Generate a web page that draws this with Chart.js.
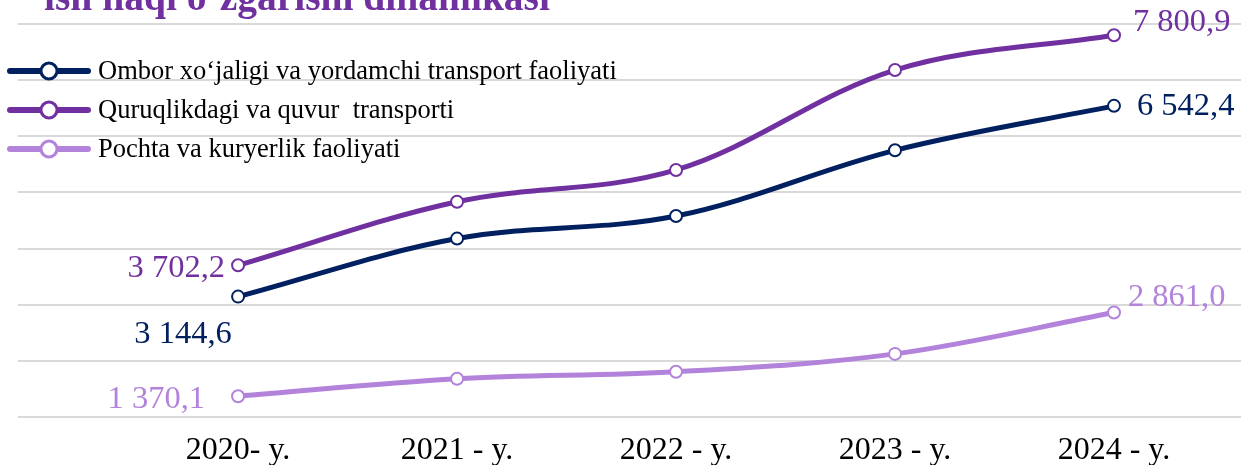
<!DOCTYPE html>
<html>
<head>
<meta charset="utf-8">
<script src="https://cdn.jsdelivr.net/npm/chart.js@4.4.1/dist/chart.umd.min.js"></script>
<style>
  html, body { margin: 0; padding: 0; background: #fff; }
  #wrap { position: relative; width: 1241px; height: 465px; overflow: hidden; }
  #title {
    position: absolute; left: 44px; top: -22px; margin: 0;
    font: bold 39.5px "Liberation Serif", serif; line-height: 39px;
    color: #7030A0; white-space: nowrap;
  }
  #chart { position: absolute; left: 0; top: 0; }
</style>
</head>
<body>
<div id="wrap">
  <canvas id="chart" width="1241" height="465"></canvas>
  <div id="title">ish haqi o‘zgarishi dinamikasi</div>
</div>
<script>
// data (first and last values are printed on it)
const years = ["2020- y.", "2021 - y.", "2022 - y.", "2023 - y.", "2024 - y."];
const seriesNames = [
  "Ombor xo‘jaligi va yordamchi transport faoliyati",
  "Quruqlikdagi va quvur  transporti",
  "Pochta va kuryerlik faoliyati"
];
const omborValues = [3144.6, 4178, 4580, 5750, 6542.4];
const quruqlikValues = [3702.2, 4833, 5400, 7180, 7800.9];
const pochtaValues = [1370.1, 1680, 1805, 2124, 2861.0];

const yMin = 1000;
const yMax = 8000;
const yStep = 1000;

const colors = ["#002060", "#7030A0", "#B383DB"];

// where each printed value sits relative to its point
const labelSpots = [
  { 0: { dx: -55, dy: 38, align: "center" }, 4: { dx: 23, dy: 1, align: "left" } },
  { 0: { dx: -13, dy: 3, align: "right" }, 4: { dx: 19, dy: -13, align: "left" } },
  { 0: { dx: -33, dy: 3, align: "right" }, 4: { dx: 14, dy: -15, align: "left" } }
];

function fmt(v) {
  const parts = v.toFixed(1).split(".");
  const whole = parts[0].replace(/\B(?=(\d{3})+(?!\d))/g, " ");
  return whole + "," + parts[1];
}

function toPoints(values) {
  return values.map((v, i) => ({ x: i, y: v }));
}

const allValues = [omborValues, quruqlikValues, pochtaValues];

const datasets = allValues.map((vals, k) => ({
  label: seriesNames[k],
  data: toPoints(vals),
  borderColor: colors[k],
  backgroundColor: "#fff",
  borderWidth: 5,
  tension: 0.35,
  pointRadius: 6,
  pointBorderWidth: 2,
  pointBackgroundColor: "#fff",
  pointBorderColor: colors[k]
}));

// value labels at the ends of each line
const valueLabels = {
  id: "valueLabels",
  afterDatasetsDraw(chart) {
    const ctx = chart.ctx;
    ctx.save();
    ctx.font = '32.5px "Liberation Serif", serif';
    ctx.textBaseline = "middle";
    chart.data.datasets.forEach((ds, k) => {
      const meta = chart.getDatasetMeta(k);
      Object.keys(labelSpots[k]).forEach(idx => {
        const spot = labelSpots[k][idx];
        const pt = meta.data[idx];
        ctx.fillStyle = colors[k];
        ctx.textAlign = spot.align;
        ctx.fillText(fmt(ds.data[idx].y), pt.x + spot.dx, pt.y + spot.dy);
      });
    });
    ctx.restore();
  }
};

// legend drawn on top of the plot, like the original
const lineLegend = {
  id: "lineLegend",
  afterDraw(chart) {
    const ctx = chart.ctx;
    const rows = [71, 110, 149];
    ctx.save();
    chart.data.datasets.forEach((ds, k) => {
      const y = rows[k];
      ctx.strokeStyle = colors[k];
      ctx.lineWidth = 6;
      ctx.lineCap = "round";
      ctx.beginPath();
      ctx.moveTo(10, y);
      ctx.lineTo(88, y);
      ctx.stroke();
      ctx.beginPath();
      ctx.arc(49, y, 8, 0, Math.PI * 2);
      ctx.fillStyle = "#fff";
      ctx.fill();
      ctx.lineWidth = 3;
      ctx.stroke();
      ctx.fillStyle = "#000";
      ctx.font = '26.5px "Liberation Serif", serif';
      ctx.textAlign = "left";
      ctx.textBaseline = "middle";
      ctx.fillText(ds.label, 98, y + 1);
    });
    ctx.restore();
  }
};

const config = {
  type: "line",
  data: { datasets: datasets },
  options: {
    responsive: false,
    animation: false,
    layout: { autoPadding: false, padding: { left: 18, right: 0, top: 24, bottom: 0 } },
    plugins: {
      legend: { display: false },
      tooltip: { enabled: false },
      title: { display: false }
    },
    scales: {
      x: {
        type: "linear",
        min: -1.005,
        max: 4.58,
        grid: { display: false },
        border: { display: false },
        afterBuildTicks: axis => {
          axis.ticks = years.map((_, i) => ({ value: i }));
        },
        afterFit: axis => {
          axis.height = 48;
          axis.paddingLeft = 0;
          axis.paddingRight = 0;
        },
        ticks: {
          autoSkip: false,
          maxRotation: 0,
          padding: 6,
          color: "#000",
          font: { family: '"Liberation Serif", serif', size: 32 },
          callback: v => years[v]
        }
      },
      y: {
        min: yMin,
        max: yMax,
        ticks: { display: false, stepSize: yStep },
        grid: { color: "#D9D9D9", lineWidth: 2, drawTicks: false },
        border: { display: false }
      }
    }
  },
  plugins: [valueLabels, lineLegend]
};

const myChart = new Chart(document.getElementById("chart"), config);
</script>
</body>
</html>
